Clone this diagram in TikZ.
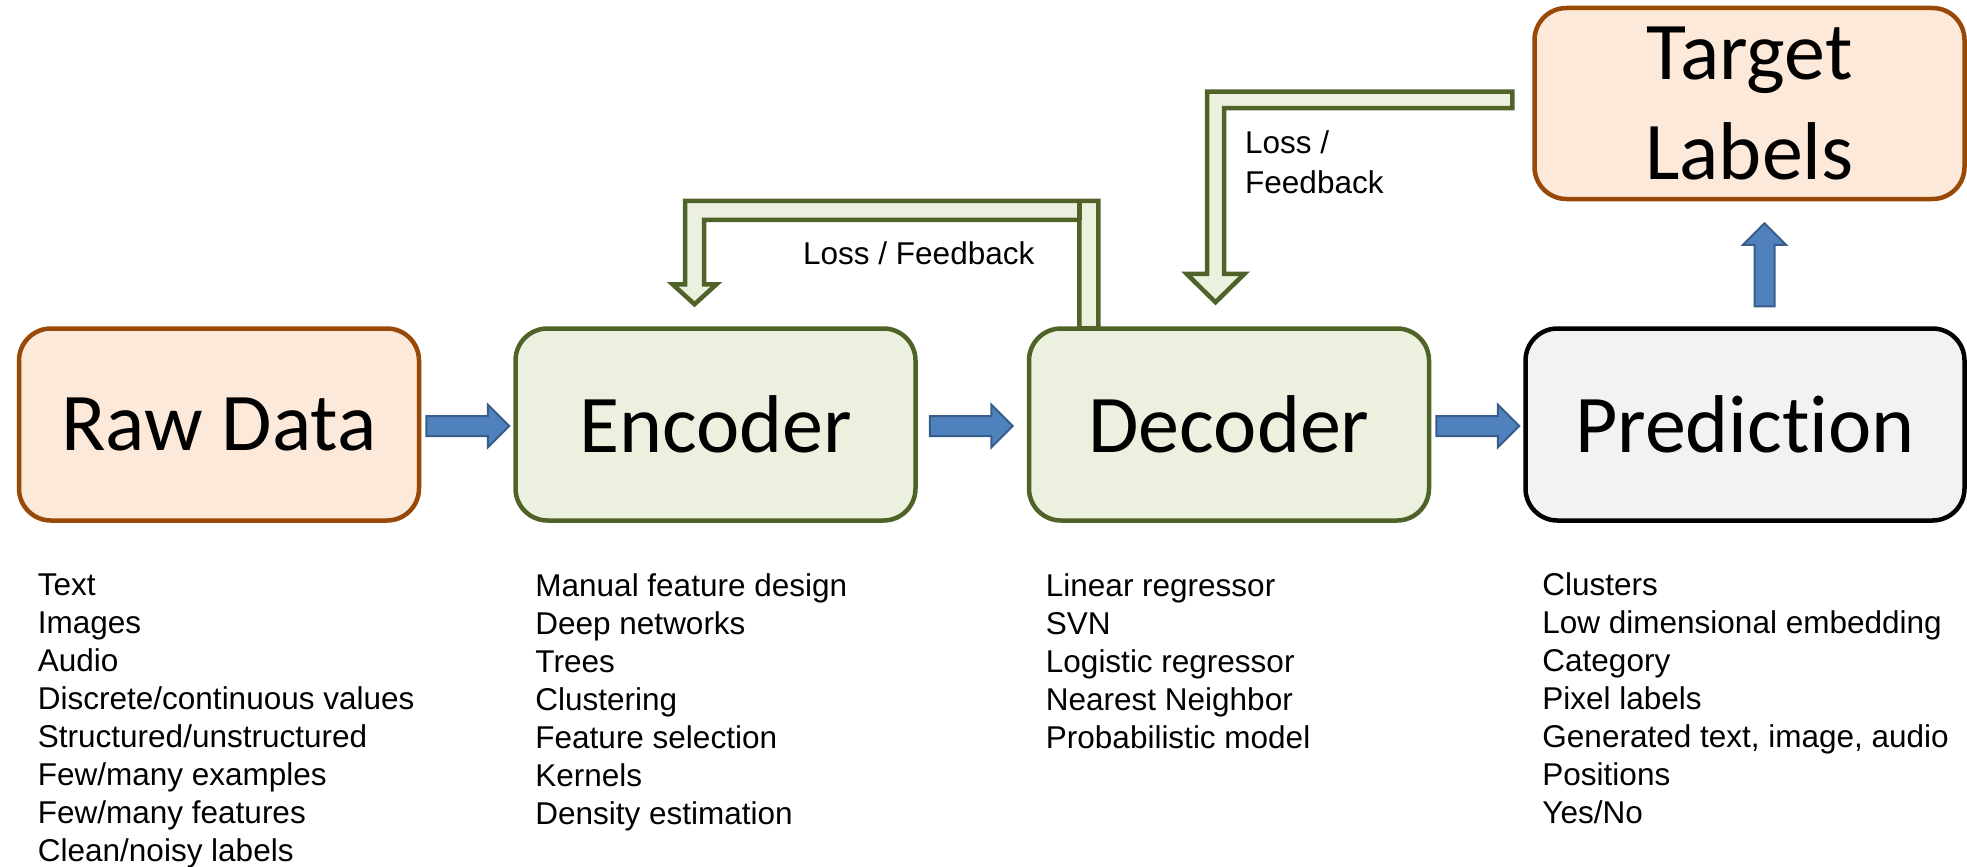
\documentclass[tikz,border=0pt]{standalone}
\usepackage{fontspec}
\setmainfont{Liberation Sans}
\newfontfamily\boxfont[Ligatures=NoCommon]{Carlito}
\usepackage{tikz}
\usetikzlibrary{
    arrows.meta,
    positioning,
    calc,
    shapes.arrows,
}

\definecolor{rawfill}{HTML}{FDE9D9}
\definecolor{rawedge}{HTML}{984807}
\definecolor{modelfill}{HTML}{EBF1DE}
\definecolor{modeledge}{HTML}{4F6228}
\definecolor{predfill}{HTML}{F2F2F2}
\definecolor{flowfill}{HTML}{4F81BD}
\definecolor{flowedge}{HTML}{385D8A}

\begin{document}
\begin{tikzpicture}[
    x=1pt, y=-1pt,
    stage/.style={draw, line width=4.5pt, rounded corners=32pt, inner sep=0pt,
        minimum width=400pt, minimum height=192pt, align=center,
        font=\boxfont\fontsize{82}{100}\selectfont},
    databox/.style={stage, fill=rawfill, draw=rawedge},
    modelbox/.style={stage, fill=modelfill, draw=modeledge},
    predbox/.style={stage, fill=predfill, draw=black, minimum width=439pt},
    flow/.style={single arrow, draw=flowedge, fill=flowfill, line width=2pt,
        single arrow head extend=11.5pt, inner sep=0pt, text height=18pt,
        text depth=0pt, minimum height=83pt, anchor=tail},
    loopback/.style={draw=modeledge, fill=modelfill, line width=4.5pt, line join=miter},
    note/.style={inner sep=0pt, anchor=north west, align=left,
        font=\fontsize{31.5}{38}\selectfont},
]

\useasboundingbox (0,0) rectangle (1967,867);

\node[databox] (raw) at (219,424.5) {Raw Data};
\node[modelbox] (enc) [right=92pt of raw] {Encoder};
\node[modelbox] (dec) [right=109pt of enc] {Decoder};
\node[predbox] (pred) [right=92pt of dec] {Prediction};
\node[databox, minimum width=430pt, minimum height=191pt] (tgt)
    [above=125pt of pred.north east, anchor=south east] {Target\\Labels};

% forward arrows
\node[flow] (f1) at ($(raw.east)+(4,1.5)$) {};
\node[flow] (f2) at ($(enc.east)+(11,1.5)$) {};
\node[flow] (f3) at ($(dec.east)+(4,1.5)$) {};
\node[flow, rotate=90] (f4) at ($(pred.north)+(19.5,-19)$) {};

% feedback decoder -> encoder
\draw[loopback] ($(dec.north west)+(71.5,2)$) -- ++(0,-127.5)
    -| ($(enc.north)+(-30.5,-42)$) -- ++(-12.5,0) -- ++(22,20) -- ++(22,-20)
    -- ++(-12.5,0) -- ++(0,-64.5) -| ($(dec.north west)+(52.5,2)$) -- cycle;
\draw[loopback] ($(dec.north west)+(52.5,-125.5)$) -- ++(0,19);
\node[note] (fb1) at (803,241) {Loss / Feedback};

% feedback target labels -> decoder
\draw[loopback] ($(tgt.west)+(-20,-12)$)
    -| ($(dec.north)+(-22,-52.5)$) -- ++(-20.5,0) -- ++(29,28.5) -- ++(29,-28.5)
    -- ++(-20.5,0) |- ($(tgt.west)+(-20,4.5)$) -- cycle;
\node[note, font=\fontsize{31.5}{40}\selectfont] (fb2) at (1245,130) {Loss /\\Feedback};

% what goes into each stage
\node[note] (rawlist) [below right=50.5pt and 21pt of raw.south west] {Text\\Images\\Audio\\Discrete/continuous values\\Structured/unstructured\\Few/many examples\\Few/many features\\Clean/noisy labels};
\node[note] (enclist) [below right=50.5pt and 22pt of enc.south west] {Manual feature design\\Deep networks\\Trees\\Clustering\\Feature selection\\Kernels\\Density estimation};
\node[note] (declist) [below right=50.5pt and 19pt of dec.south west] {Linear regressor\\SVN\\Logistic regressor\\Nearest Neighbor\\Probabilistic model};
\node[note] (predlist) [below right=49.5pt and 19pt of pred.south west] {Clusters\\Low dimensional embedding\\Category\\Pixel labels\\Generated text, image, audio\\Positions\\Yes/No};

\end{tikzpicture}
\end{document}
